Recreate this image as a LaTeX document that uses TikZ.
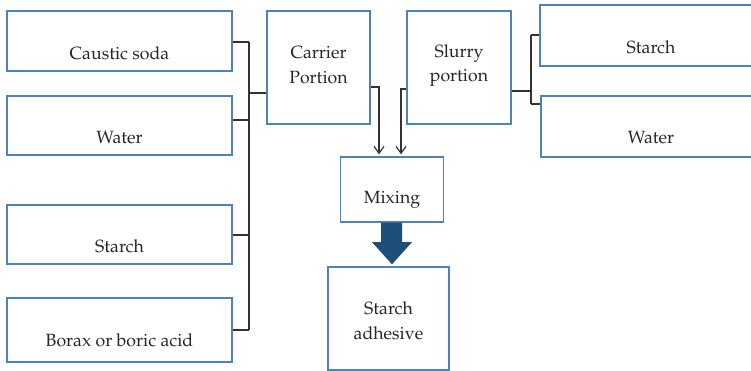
\documentclass[tikz,border=0pt]{standalone}
\usepackage[T1]{fontenc}
\renewcommand{\rmdefault}{ppl}
\usetikzlibrary{arrows.meta,calc}
\definecolor{boxblue}{HTML}{4F81BD}
\definecolor{linegray}{HTML}{333333}
\definecolor{bigarrow}{HTML}{1F4E79}
\begin{document}
\begin{tikzpicture}[x=1bp,y=-1bp,
  box/.style={draw=boxblue,line width=1.3bp,fill=white,inner sep=0pt},
  txt/.style={font=\fontsize{17.7bp}{24.5bp}\selectfont,align=center,inner sep=0pt,text=black!85},
  conn/.style={draw=linegray,line width=1.2bp},
  arr/.style={conn,-{Straight Barb[length=7bp,width=10bp,line width=1.2bp]}}]
\useasboundingbox (0,0) rectangle (751,370);
\begin{scope}
\clip (0,0) rectangle (751,370);
% left boxes
\node[box,minimum width=225bp,minimum height=60bp] (cs) at (119.5,41) {};
\node[box,minimum width=225bp,minimum height=59bp] (wl) at (119.5,125.5) {};
\node[box,minimum width=225bp,minimum height=59bp] (sl) at (119.5,234.5) {};
\node[box,minimum width=225bp,minimum height=64bp] (bx) at (119.5,330) {};
\node[txt] (tcs) at (119.5,53) {Caustic soda};
\node[txt] (twl) at (119.5,137.5) {Water};
\node[txt] (tsl) at (119.5,246.5) {Starch};
\node[txt] (tbx) at (119.5,340) {Borax or boric acid};
% carrier and slurry
\node[box,minimum width=103bp,minimum height=113bp] (car) at (318.5,67.5) {};
\node[txt] (tcar) at (318.5,65) {Carrier\\Portion};
\node[box,minimum width=104bp,minimum height=113bp] (sly) at (459,67.5) {};
\node[txt] (tsly) at (459,65.5) {Slurry\\portion};
% right boxes
\node[box,minimum width=220bp,minimum height=61bp] (sr) at (650,35.5) {};
\node[box,minimum width=220bp,minimum height=61bp] (wr) at (651,126.5) {};
\node[txt] (tsr) at (651,47) {Starch};
\node[txt] (twr) at (651,138) {Water};
% mixing and adhesive
\node[box,minimum width=103bp,minimum height=65bp] (mix) at (392,189.5) {};
\node[txt] (tmix) at (392,200) {Mixing};
\node[box,minimum width=121bp,minimum height=103bp] (adh) at (388.5,318.5) {};
\node[txt] (tadh) at (388.5,321) {Starch\\adhesive};
\end{scope}
% left bus
\coordinate (busL) at (249,0);
\draw[conn] ([yshift=-1bp]cs.east) -- ([yshift=-1bp]cs.east -| busL);
\draw[conn] ([yshift=5.5bp]wl.east) -- ([yshift=5.5bp]wl.east -| busL);
\draw[conn] ([yshift=-0.5bp]sl.east) -- ([yshift=-0.5bp]sl.east -| busL);
\draw[conn] (bx.east) -- (bx.east -| busL);
\draw[conn] ([yshift=-1bp]cs.east -| busL) -- (bx.east -| busL);
\draw[conn] ([yshift=-25.5bp]car.west -| busL) -- ([yshift=-25.5bp]car.west);
% right bus
\coordinate (busR) at (531,0);
\draw[conn] ([yshift=-23.5bp]sly.east) -- ([yshift=-23.5bp]sly.east -| busR);
\draw[conn] ([yshift=0.5bp]sr.west -| busR) -- ([yshift=0.5bp]sr.west);
\draw[conn] ([yshift=22.5bp]wr.west -| busR) -- ([yshift=22.5bp]wr.west);
\draw[conn] ([yshift=0.5bp]sr.west -| busR) -- ([yshift=22.5bp]wr.west -| busR);
% arrows into mixing
\draw[arr] ([yshift=-19.5bp]car.east) -| ([xshift=-13bp,yshift=2bp]mix.north);
\draw[arr] ([yshift=-21.5bp]sly.west) -| ([xshift=9bp,yshift=2bp]mix.north);
% big arrow
\fill[bigarrow] ($(mix.south)+(-11,0)$) -- ++(0,19.5) -- ++(-9,0) -- ($(adh.north)+(3.5,-2)$) -- ($(mix.south)+(20,19.5)$) -- ++(-10,0) -- ($(mix.south)+(10,0)$) -- cycle;
\end{tikzpicture}
\end{document}
